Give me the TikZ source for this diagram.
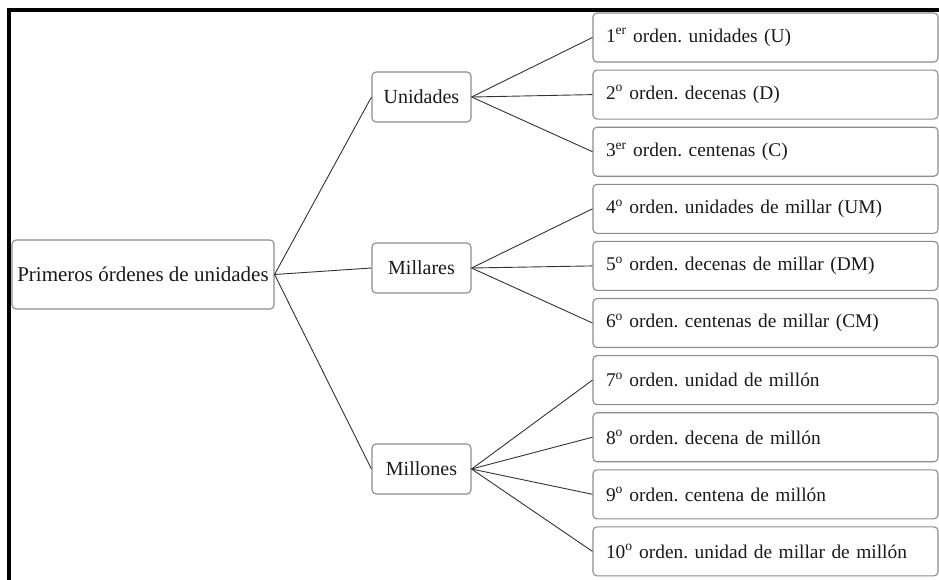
\documentclass[tikz,border=0pt]{standalone}
\usepackage{fontspec}
\setmainfont{Liberation Serif}
\frenchspacing
\definecolor{boxline}{HTML}{8C8C8C}
\definecolor{conn}{HTML}{333333}
\definecolor{txt}{HTML}{1A1A1A}
\begin{document}
\begin{tikzpicture}[x=1pt,y=-1pt,
  box/.style={draw=boxline,line width=1.1pt,rounded corners=4pt,fill=white,
    text=txt,font=\fontsize{20}{24}\selectfont,inner sep=0pt},
  mid/.style={box,minimum width=99pt,minimum height=50pt},
  leaf/.style={box,text width=319pt,inner xsep=13pt,minimum height=49pt,align=left,
    font=\fontsize{19.4}{23}\selectfont},
  conn/.style={draw=conn,line width=0.9pt}]
\useasboundingbox (0,0) rectangle (939,579);
\begin{scope}
\clip (0,0) rectangle (939,579);
\draw[line width=4pt] (9,585) -- (9,10) -- (945,10);

\node[box,minimum width=262pt,minimum height=69pt,font=\fontsize{21}{25}\selectfont] (root) at (143,274.5) {Primeros órdenes de unidades};

\node[mid] (u) at (421.5,97) {Unidades};
\node[mid] (m) at (421.5,268) {Millares};
\node[mid] (mm) at (421.5,469) {Millones};

\node[leaf] (l1) at (765.5,37.5) {1\textsuperscript{er} orden. unidades (U)};
\node[leaf] (l2) at (765.5,94.6) {2\textsuperscript{o} orden. decenas (D)};
\node[leaf] (l3) at (765.5,151.7) {3\textsuperscript{er} orden. centenas (C)};
\node[leaf] (l4) at (765.5,208.8) {4\textsuperscript{o} orden. unidades de millar (UM)};
\node[leaf] (l5) at (765.5,265.9) {5\textsuperscript{o} orden. decenas de millar (DM)};
\node[leaf] (l6) at (765.5,323) {6\textsuperscript{o} orden. centenas de millar (CM)};
\node[leaf] (l7) at (765.5,380.1) {7\textsuperscript{o} orden. unidad de millón};
\node[leaf] (l8) at (765.5,437.2) {8\textsuperscript{o} orden. decena de millón};
\node[leaf] (l9) at (765.5,494.3) {9\textsuperscript{o} orden. centena de millón};
\node[leaf] (l10) at (765.5,551.4) {10\textsuperscript{o} orden. unidad de millar de millón};

\foreach \t in {u,m,mm} \draw[conn] (root.east) -- (\t.west);
\foreach \t in {l1,l2,l3} \draw[conn] (u.east) -- (\t.west);
\foreach \t in {l4,l5,l6} \draw[conn] (m.east) -- (\t.west);
\foreach \t in {l7,l8,l9,l10} \draw[conn] (mm.east) -- (\t.west);
\end{scope}
\end{tikzpicture}
\end{document}
